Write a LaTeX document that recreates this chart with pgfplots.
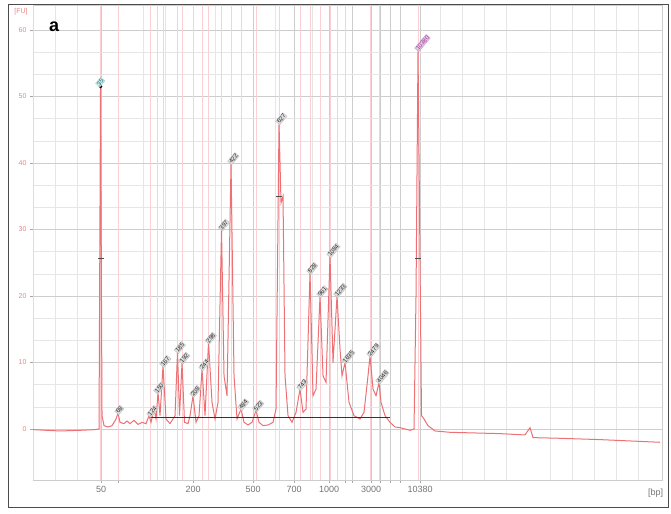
\documentclass[border=0pt]{standalone}
\usepackage{fontspec}
\setmainfont{Liberation Sans}
\usepackage{pgfplots}
\pgfplotsset{compat=1.18}

\definecolor{trace}{RGB}{236,112,116}
\definecolor{peakline}{RGB}{250,208,212}
\definecolor{gridgray}{RGB}{205,205,205}
\definecolor{faintgray}{RGB}{230,230,230}
\definecolor{fulabel}{RGB}{236,130,130}

\begin{document}
\begin{tikzpicture}[x=1pt,y=1pt]
\begin{axis}[
    scale only axis,
    width=629pt, height=475pt,
    xmin=33, xmax=662,
    ymin=-7.67, ymax=63.76,
    clip mode=individual,
    axis line style={gridgray},
    /pgf/number format/assume math mode=true,
    xtick={101,118,193,253,294,329,345,352,371,380,390,400,420},
    xticklabels={50,,200,500,700,1000,,,3000,,,,10380},
    minor xtick={55,77,143,165,215,275,312,440,462,484,506,550,572,594,616,638},
    ytick={0,10,...,60},
    minor y tick num=2,
    grid=both,
    major grid style={gridgray, line width=0.4pt},
    minor grid style={faintgray, line width=0.4pt},
    tick style={gray!70},
    major tick length=3pt,
    minor tick length=0pt,
    tick align=outside,
    xtick pos=bottom, ytick pos=left,
    x tick label style={font=\small, text=black!55},
    y tick label style={font=\scriptsize, text=fulabel},
    extra x ticks={33.6,100.5,118,150,157,163,177.5,182,193,202,208.5,221.5,231,241,256,279,300,310,320,330,337,345,370,379,418},
    extra x tick labels={},
    extra x tick style={grid=major, major grid style={peakline, line width=0.7pt}, major tick length=0pt},
    xlabel={[bp]},
    xlabel style={at={(rel axis cs:0.99,0)}, anchor=north, font=\small, text=black!55, yshift=-5pt},
]

% electropherogram trace (FU versus migration position)
\addplot[trace, line width=1pt] coordinates {
(33,-0.1) (60,-0.3) (80,-0.2) (95,-0.1) (99,0) (100.5,51.5) (102,2) (104,0.5) (108,0.3)
(112,0.5) (116,1.5) (118,2.4) (120,1.0) (124,0.8) (127,1.2) (130,0.8) (134,1.3)
(138,0.7) (142,1) (146,0.8) (149,2) (151,1) (154,3) (156,1.5) (158,5.5) (160,2)
(163,9.5) (166,1.5) (170,0.8) (175,2) (177.5,11.6) (179.5,2) (182,10) (184.5,1)
(188,0.8) (190,2) (193,5) (196,1) (199,2) (202,9) (205,2) (208.5,13) (212,4)
(215,1.5) (218,4) (221.5,30) (224,8) (227,5) (231,40) (234,8) (237,1.5) (241,3)
(244,1) (248,0.6) (252,1) (256,2.8) (259,1) (263,0.5) (268,0.6) (273,1) (276,3)
(279,46) (281,34) (283,35) (285,8) (288,2) (292,1) (296,2.5) (300,6) (303,2.5)
(306,3) (310,23.5) (313,5) (316,6) (320,20) (323,8) (326,7) (330,26) (333,10)
(337,20) (340,12) (342,8) (345,10) (349,4) (354,2) (360,1.5) (364,2.5) (368,8)
(370,11) (373,6) (376,5) (379,7) (381,4) (385,2) (390,1) (395,0.3) (400,0.2)
(405,0) (410,-0.2) (414,0) (416,20) (418,57) (420,25) (421.5,2) (424,1.5)
(428,0.5) (435,-0.3) (450,-0.5) (500,-0.7) (525,-0.9) (530,0.2) (533,-1.3)
(560,-1.4) (600,-1.6) (660,-2.0)
};

% threshold line
\addplot[black!80, line width=0.5pt] coordinates {(150,1.8) (390,1.8)};

% marker on lower marker peak and half height ticks
\addplot[only marks, mark=*, mark size=1.5pt, black] coordinates {(100.5,51.5)};
\addplot[only marks, mark=-, mark size=3pt, black!70] coordinates {(100.5,25.7) (418,25.7) (279,35)};

% peak labels
\addplot[only marks, mark=none,
    nodes near coords, point meta=explicit symbolic,
    every node near coord/.style={rotate=50, anchor=west, font=\fontsize{6}{6}\selectfont,
        fill=gray!25, draw=gray!50, inner sep=0.6pt, text=black!85, xshift=-1pt, yshift=1pt}]
table[meta=label] {
x y label
118 2.4 68
150 2.0 124
157 5.5 150
163 9.5 167
177.5 11.6 185
182 10 192
193 5 208
202 9 244
208.5 13 298
221.5 30 397
231 40 422
241 3 484
256 2.8 523
279 46 627
300 6 743
310 23.5 828
320 20 961
330 26 1084
337 20 1233
345 10 1635
370 11 2479
379 7 4046
};
\addplot[only marks, mark=none,
    nodes near coords, point meta=explicit symbolic,
    every node near coord/.style={rotate=50, anchor=west, font=\fontsize{6}{6}\selectfont,
        fill=teal!15, draw=teal!40, inner sep=0.6pt, text=teal!80!black, xshift=-1pt, yshift=3pt}]
table[meta=label] {
x y label
100.5 51.5 35
};
\addplot[only marks, mark=none,
    nodes near coords, point meta=explicit symbolic,
    every node near coord/.style={rotate=50, anchor=west, font=\fontsize{6}{6}\selectfont,
        fill=violet!20, draw=violet!40, inner sep=0.6pt, text=violet!80, xshift=-1pt, yshift=1pt}]
table[meta=label] {
x y label
418 57 10380
};

\node[font=\bfseries\fontsize{18}{18}\selectfont, anchor=west] at (rel axis cs:0.02,0.955) {a};
\node[font=\scriptsize, text=fulabel, anchor=north east] at (rel axis cs:-0.003,1.0) {[FU]};

\coordinate (bbsw) at (rel axis cs:-0.0525,-0.0716);
\coordinate (bbne) at (rel axis cs:1.0143,1.0105);
\coordinate (frsw) at (rel axis cs:-0.0397,-0.0589);
\coordinate (frne) at (rel axis cs:1.011,1.0);
\end{axis}
\draw[black!70, line width=1pt] (frsw) rectangle (frne);
\pgfresetboundingbox
\path[use as bounding box] (bbsw) rectangle (bbne);
\end{tikzpicture}
\end{document}
